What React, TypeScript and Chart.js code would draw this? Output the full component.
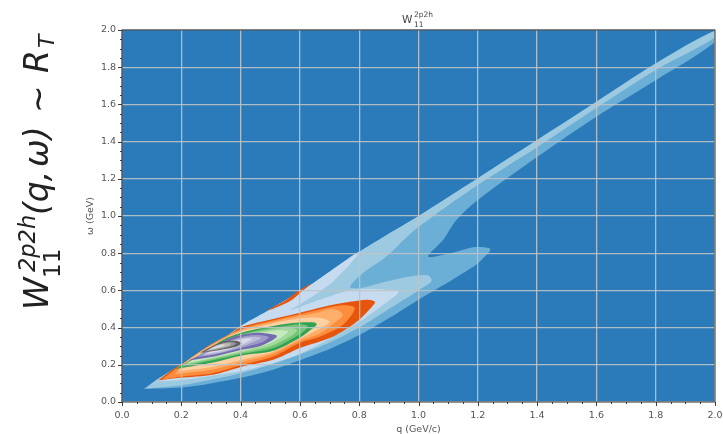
import React, { useEffect, useRef } from "react";
import { Chart, registerables } from "chart.js";

Chart.register(...registerables);

type P = [number, number];

const level1: P[] = [[.072,.07],[.2,.078],[.3,.1],[.4,.13],[.5,.17],[.6,.225],[.7,.285],[.8,.36],[.9,.45],[1,.55],[1.117,.66],[1.196,.74],[1.24,.81],[1.24,.827],[1.184,.832],[1.117,.804],[1.033,.782],[1.083,.872],[1.128,.979],[1.2,1.086],[1.401,1.318],[1.6,1.534],[1.8,1.73],[2,1.935],[2,1.996],[1.8,1.82],[1.6,1.614],[1.4,1.408],[1.2,1.203],[1,1],[.927,.93],[.802,.809],[.645,.639],[.6,.594],[.488,.487],[.398,.406],[.33,.326],[.218,.218],[.117,.12]];
const level2: P[] = [[.08,.072],[.2,.09],[.3,.12],[.4,.155],[.5,.2],[.6,.255],[.7,.32],[.8,.4],[.9,.5],[1,.6],[1.044,.65],[1.033,.68],[.971,.675],[.892,.648],[.802,.612],[.769,.618],[.813,.693],[.892,.782],[.988,.926],[1.2,1.167],[1.4,1.37],[1.6,1.58],[1.8,1.785],[2,1.96],[2,1.996],[1.8,1.82],[1.6,1.614],[1.4,1.408],[1.2,1.203],[1,1],[.927,.93],[.802,.809],[.645,.639],[.6,.594],[.488,.487],[.398,.406],[.33,.326],[.218,.218],[.117,.12]];
const level3: P[] = [[.117,.112],[.2,.118],[.3,.14],[.4,.165],[.5,.205],[.6,.26],[.7,.34],[.8,.43],[.87,.51],[.926,.576],[.932,.594],[.903,.603],[.78,.603],[.667,.55],[.572,.496],[.634,.559],[.712,.648],[.802,.809],[.645,.639],[.6,.594],[.488,.487],[.398,.406],[.33,.326],[.218,.218]];
const orangeSliver: P[] = [[.482,.487],[.555,.55],[.6,.603],[.639,.639],[.606,.594],[.566,.541],[.516,.505]];
const orange1: P[] = [[.122,.116],[.195,.13],[.307,.147],[.404,.19],[.51,.227],[.6,.29],[.711,.351],[.792,.431],[.843,.512],[.853,.539],[.826,.55],[.711,.523],[.6,.48],[.499,.442],[.398,.4],[.353,.349],[.263,.26],[.184,.188]];
const orange2: P[] = [[.134,.12],[.218,.14],[.307,.155],[.404,.2],[.51,.245],[.6,.319],[.667,.351],[.745,.415],[.785,.506],[.74,.52],[.6,.472],[.499,.435],[.398,.39],[.3,.31],[.2,.2]];
const orange3: P[] = [[.18,.15],[.307,.175],[.404,.215],[.51,.26],[.6,.33],[.658,.361],[.7,.405],[.745,.469],[.711,.501],[.658,.48],[.6,.462],[.499,.428],[.398,.385],[.3,.305],[.21,.21]];
const orange4: P[] = [[.19,.165],[.307,.19],[.404,.227],[.51,.27],[.6,.34],[.674,.4],[.7,.431],[.667,.453],[.6,.45],[.499,.42],[.398,.378],[.3,.3],[.22,.215]];
const green1: P[] = [[.179,.177],[.307,.212],[.404,.25],[.51,.275],[.6,.345],[.63,.38],[.657,.415],[.65,.427],[.6,.428],[.55,.42],[.443,.388],[.353,.344],[.263,.254]];
const green2: P[] = [[.2,.19],[.307,.224],[.404,.258],[.51,.29],[.59,.355],[.62,.39],[.625,.41],[.6,.418],[.53,.405],[.443,.38],[.36,.34],[.27,.26]];
const green3: P[] = [[.21,.2],[.307,.232],[.404,.266],[.5,.3],[.565,.35],[.59,.385],[.56,.4],[.44,.372],[.37,.335],[.28,.265]];
const green4: P[] = [[.22,.21],[.307,.238],[.404,.274],[.49,.31],[.54,.35],[.56,.38],[.52,.385],[.43,.36],[.37,.33],[.29,.27]];
const purple1: P[] = [[.222,.222],[.307,.243],[.404,.281],[.465,.3],[.51,.335],[.522,.351],[.519,.36],[.455,.372],[.38,.352],[.33,.317],[.26,.25]];
const purple2: P[] = [[.25,.24],[.32,.258],[.41,.295],[.47,.32],[.495,.35],[.44,.36],[.385,.342],[.33,.31]];
const purple3: P[] = [[.27,.25],[.33,.265],[.41,.302],[.45,.328],[.47,.345],[.43,.35],[.38,.333],[.33,.305]];
const purple4: P[] = [[.285,.26],[.34,.275],[.4,.305],[.43,.33],[.44,.34],[.41,.34],[.37,.322],[.33,.3]];
const grey1: P[] = [[.263,.265],[.33,.28],[.387,.299],[.404,.316],[.387,.328],[.342,.325],[.297,.295]];
const grey2: P[] = [[.275,.27],[.33,.285],[.375,.303],[.385,.316],[.36,.322],[.32,.302]];
const grey3: P[] = [[.285,.275],[.33,.29],[.36,.303],[.368,.314],[.34,.314],[.31,.298]];
const grey4: P[] = [[.295,.28],[.33,.295],[.345,.303],[.345,.31],[.32,.302]];

const contours: [string, P[], string][] = [
  ["level 1", level1, "#6baed6"],
  ["level 2", level2, "#9ecae1"],
  ["level 3", level3, "#c6dbef"],
  ["orange sliver", orangeSliver, "#e6550d"],
  ["orange 1", orange1, "#e6550d"],
  ["orange 2", orange2, "#fd8d3c"],
  ["orange 3", orange3, "#fdae6b"],
  ["orange 4", orange4, "#fdd0a2"],
  ["green 1", green1, "#31a354"],
  ["green 2", green2, "#74c476"],
  ["green 3", green3, "#a1d99b"],
  ["green 4", green4, "#c7e9c0"],
  ["purple 1", purple1, "#756bb1"],
  ["purple 2", purple2, "#9e9ac8"],
  ["purple 3", purple3, "#bcbddc"],
  ["purple 4", purple4, "#dadaeb"],
  ["grey 1", grey1, "#636363"],
  ["grey 2", grey2, "#969696"],
  ["grey 3", grey3, "#bdbdbd"],
  ["grey 4", grey4, "#d9d9d9"],
];

const AXIS_MAX = 2;
const MAJOR_STEP = 0.2;
const MINOR_STEP = 0.05;
const TEXT = "#555";
const FONT = "DejaVu Sans";

const framePlugin = {
  id: "frame",
  beforeDatasetsDraw(chart: any) {
    const { ctx, chartArea: a } = chart;
    ctx.save();
    ctx.fillStyle = "#2b7bba";
    ctx.fillRect(a.left, a.top, a.right - a.left, a.bottom - a.top);
    ctx.restore();
  },
  afterDraw(chart: any) {
    const { ctx, chartArea: a, scales } = chart;
    ctx.save();
    ctx.strokeStyle = "#3c3c3c";
    ctx.lineWidth = 1;
    ctx.strokeRect(a.left, a.top, a.right - a.left, a.bottom - a.top);
    ctx.beginPath();
    const n = Math.round(AXIS_MAX / MINOR_STEP);
    for (let i = 0; i <= n; i++) {
      const v = i * MINOR_STEP;
      const len = i % 4 === 0 ? 4 : 2;
      const px = Math.round(scales.x.getPixelForValue(v)) + 0.5;
      ctx.moveTo(px, a.bottom);
      ctx.lineTo(px, a.bottom + len);
      const py = Math.round(scales.y.getPixelForValue(v)) + 0.5;
      ctx.moveTo(a.left, py);
      ctx.lineTo(a.left - len, py);
    }
    ctx.stroke();
    ctx.restore();
  },
};

const axis = (title: string, tickLength: number, titleBottom: number, fix: (s: any) => void) => ({
  type: "linear" as const,
  min: 0,
  max: AXIS_MAX,
  afterFit: fix,
  border: { display: false },
  grid: { color: "rgba(190,196,200,0.9)", lineWidth: 1.3, z: 1, drawTicks: true, tickLength, tickColor: "rgba(0,0,0,0)" },
  ticks: {
    stepSize: MAJOR_STEP,
    color: TEXT,
    padding: 0,
    maxRotation: 0,
    font: { family: FONT, size: 9.5 },
    callback: (v: any) => Number(v).toFixed(1),
  },
  title: { display: true, text: title, color: TEXT, padding: { top: 1, bottom: titleBottom }, font: { family: FONT, size: 9.5 } },
});

export default function App() {
  const ref = useRef<HTMLCanvasElement>(null);
  useEffect(() => {
    const chart = new Chart(ref.current!, {
      type: "scatter",
      data: {
        datasets: contours.map(([label, pts, color], i) => ({
          label,
          data: [...pts, pts[0]].map(([x, y]) => ({ x, y })),
          showLine: true,
          fill: "shape",
          backgroundColor: color,
          borderWidth: 0,
          borderColor: color,
          pointRadius: 0,
          tension: 0.3,
          order: contours.length - i,
        })),
      },
      options: {
        responsive: false,
        animation: false,
        layout: { padding: { left: 84, right: 8, top: 30, bottom: 0 } },
        plugins: { legend: { display: false }, tooltip: { enabled: false }, title: { display: false } },
        scales: {
          x: axis("q (GeV/c)", 8, -1, (s: any) => { s.height = 32; }),
          y: axis("ω (GeV)", 6, 1, (s: any) => { s.width = 38; }),
        },
      } as any,
      plugins: [framePlugin],
    });
    return () => chart.destroy();
  }, []);

  const base: React.CSSProperties = { position: "absolute" };
  return (
    <div style={{ position: "fixed", left: 0, top: 0, width: 723, height: 434, overflow: "hidden", background: "#fff" }}>
      <canvas ref={ref} width={723} height={434} style={{ display: "block", filter: "blur(0.6px)" }} />
      <div style={{ position: "absolute", left: 402, top: 10, font: "10.5px 'DejaVu Sans'", color: "#444", filter: "blur(0.4px)", whiteSpace: "nowrap", height: 18 }}>
        <span style={{ ...base, left: 0, top: 3 }}>W</span>
        <span style={{ ...base, left: 12, top: 0, fontSize: 7.5 }}>2p2h</span>
        <span style={{ ...base, left: 12, top: 10, fontSize: 7.5 }}>11</span>
      </div>
      <div style={{ position: "absolute", left: 48, top: 310, width: 285, height: 0, transformOrigin: "0 0", transform: "rotate(-90deg)", color: "#222", fontFamily: "'DejaVu Sans'", fontSize: 33, whiteSpace: "nowrap", filter: "blur(0.5px)" }}>
        <span style={{ ...base, left: 0, bottom: -7.8, fontStyle: "italic" }}>W</span>
        <span style={{ ...base, left: 38, bottom: 7.7, fontSize: 22.5, fontStyle: "italic" }}>2p2h</span>
        <span style={{ ...base, left: 32, bottom: -17.4, fontSize: 23 }}>11</span>
        <span style={{ ...base, left: 95, bottom: -7.8, fontStyle: "italic" }}>(q,</span>
        <span style={{ ...base, left: 143, bottom: -7.8, fontStyle: "italic" }}>ω)</span>
        <span style={{ ...base, left: 197, bottom: -9 }}>∼</span>
        <span style={{ ...base, left: 237, bottom: -7.8, fontStyle: "italic" }}>R</span>
        <span style={{ ...base, left: 262, bottom: -11.2, fontSize: 22, fontStyle: "italic" }}>T</span>
      </div>
    </div>
  );
}
